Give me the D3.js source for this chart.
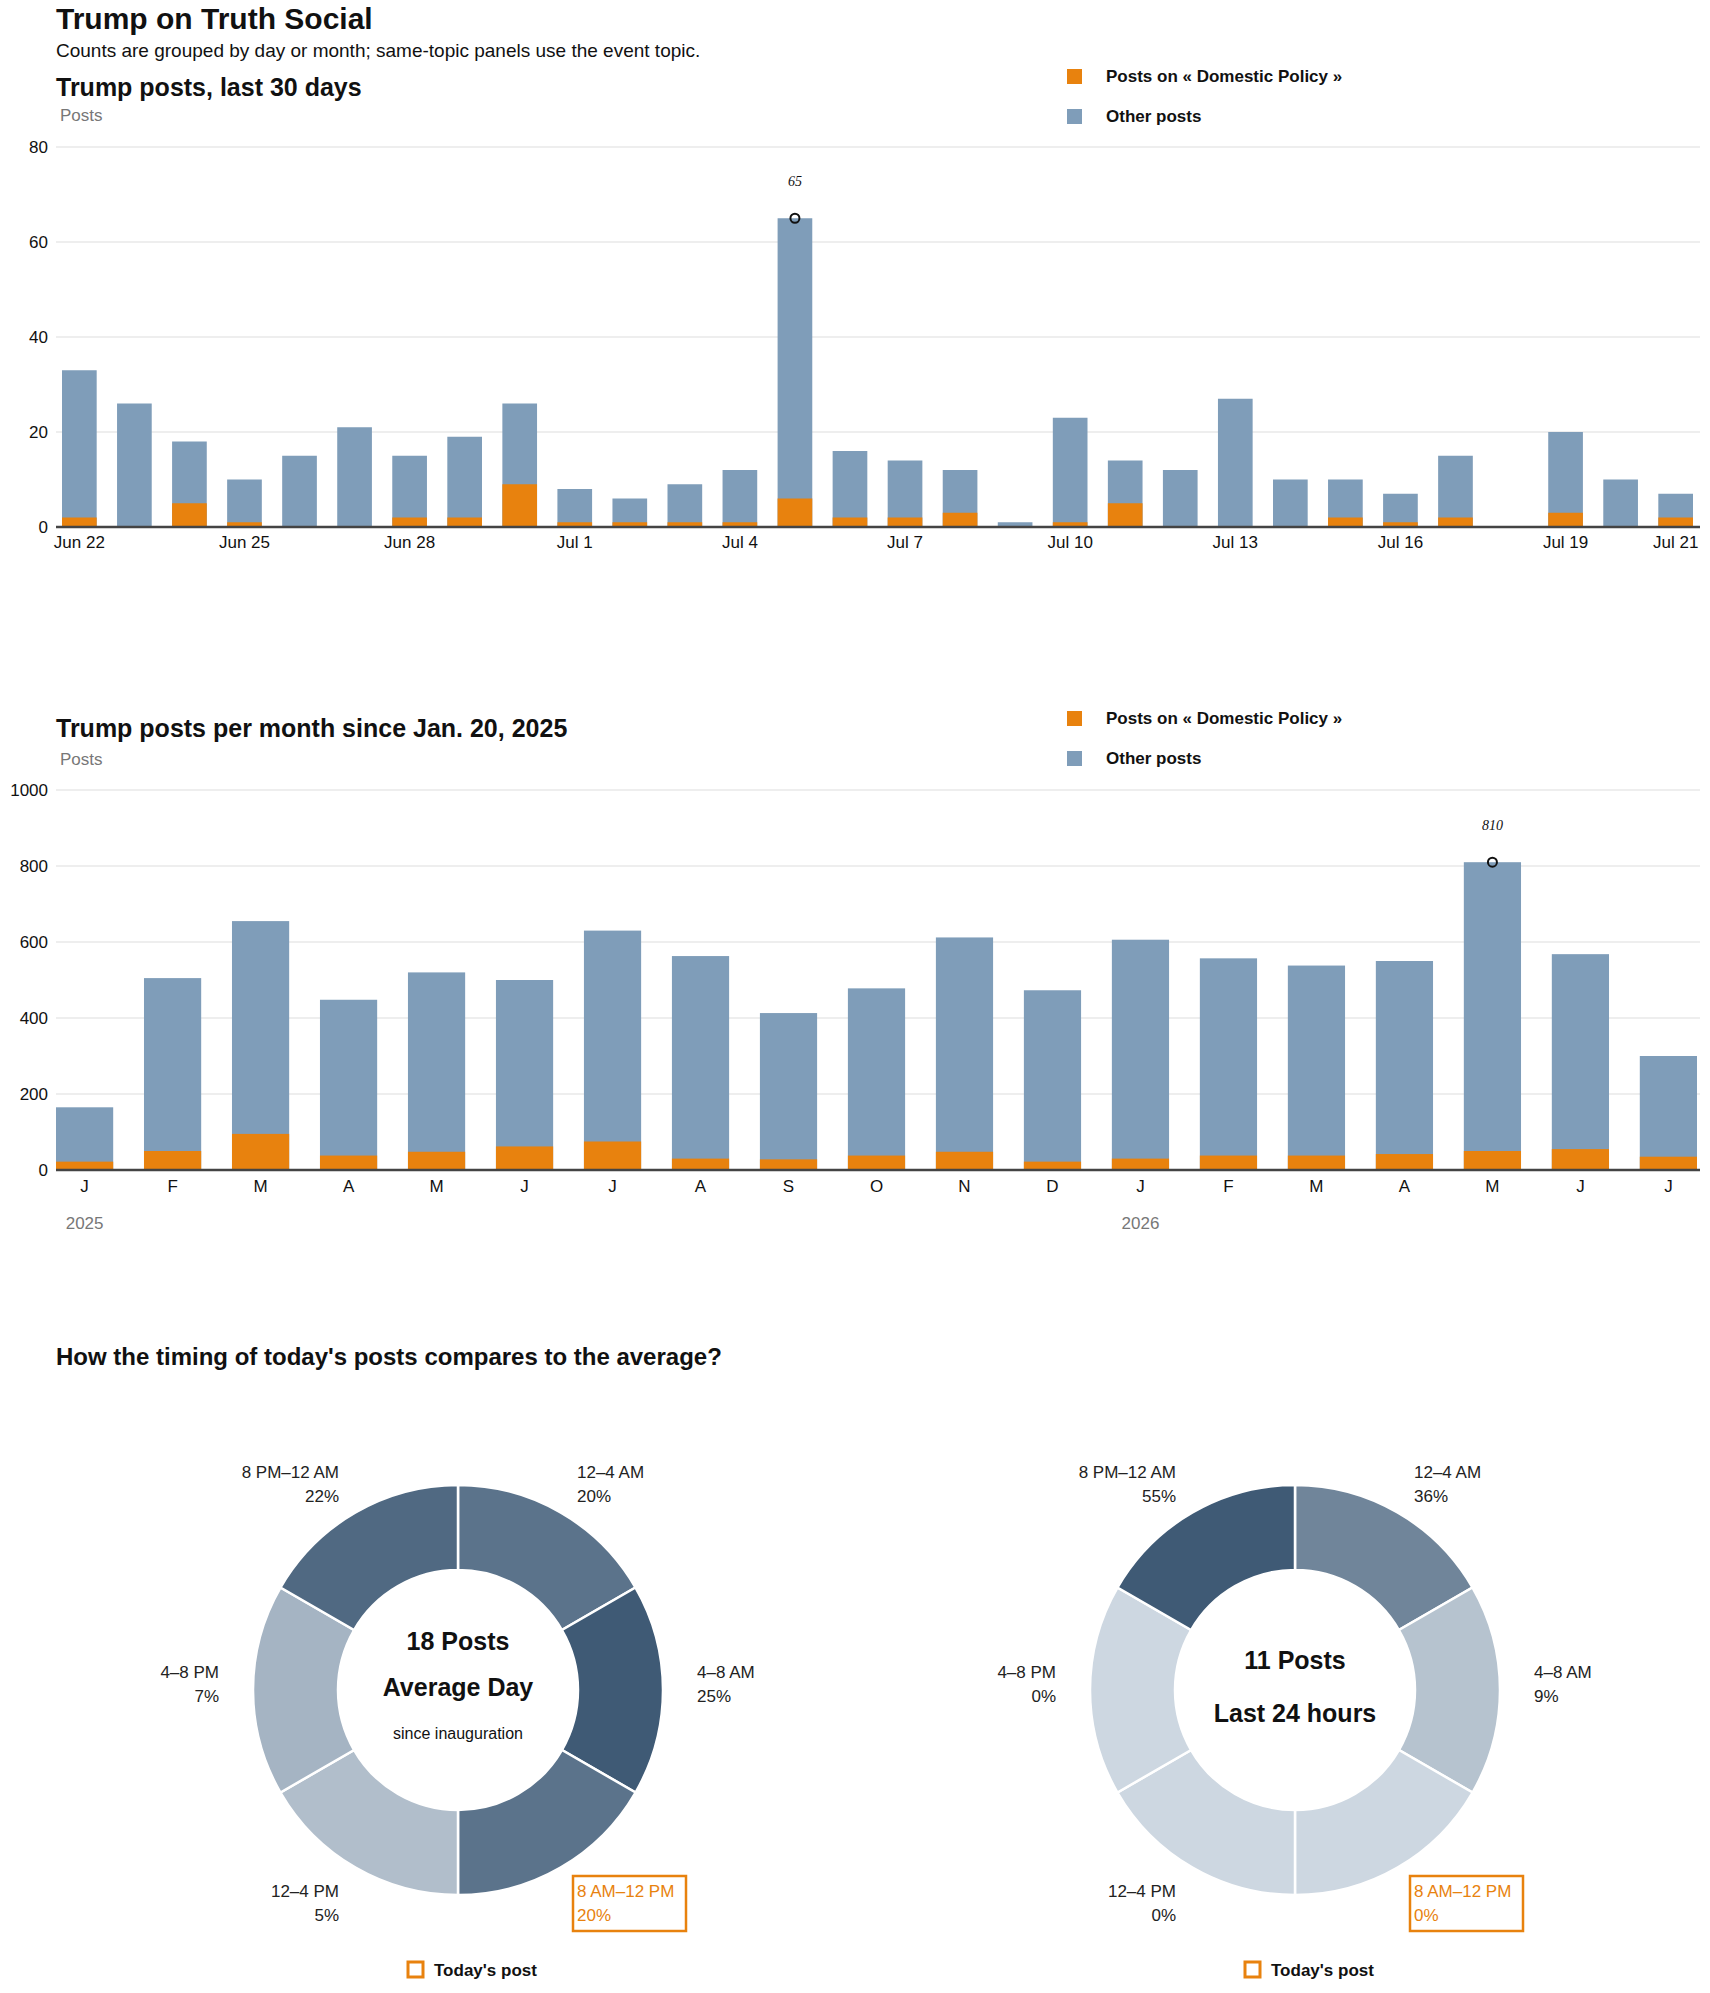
<!DOCTYPE html>
<html><head><meta charset="utf-8">
<script src="https://cdn.jsdelivr.net/npm/d3@7"></script>
<style>
body{margin:0;background:#fff;}
text{font-family:"Liberation Sans Narrow","Liberation Sans",Arial,sans-serif;}
.hv{font-weight:900;}
</style></head><body>
<svg id="c" width="1710" height="1993"></svg>
<script>
const days=["Jun 22","Jun 23","Jun 24","Jun 25","Jun 26","Jun 27","Jun 28","Jun 29","Jun 30","Jul 1","Jul 2","Jul 3","Jul 4","Jul 5","Jul 6","Jul 7","Jul 8","Jul 9","Jul 10","Jul 11","Jul 12","Jul 13","Jul 14","Jul 15","Jul 16","Jul 17","Jul 18","Jul 19","Jul 20","Jul 21"];
const dayTotal=[33,26,18,10,15,21,15,19,26,8,6,9,12,65,16,14,12,1,23,14,12,27,10,10,7,15,0,20,10,7];
const dayTopic=[2,0,5,1,0,0,2,2,9,1,1,1,1,6,2,2,3,0,1,5,0,0,0,2,1,2,0,3,0,2];
const dayTicks=["Jun 22","Jun 25","Jun 28","Jul 1","Jul 4","Jul 7","Jul 10","Jul 13","Jul 16","Jul 19","Jul 21"];
const months=["2025-01","2025-02","2025-03","2025-04","2025-05","2025-06","2025-07","2025-08","2025-09","2025-10","2025-11","2025-12","2026-01","2026-02","2026-03","2026-04","2026-05","2026-06","2026-07"];
const monthLabels=["J","F","M","A","M","J","J","A","S","O","N","D","J","F","M","A","M","J","J"];
const monthTotal=[165,505,655,448,520,500,630,563,413,478,612,473,606,557,538,550,810,568,300];
const monthTopic=[22,50,95,38,48,62,75,30,28,38,48,22,30,38,38,42,50,55,35];
const slots=["12–4 AM","4–8 AM","8 AM–12 PM","12–4 PM","4–8 PM","8 PM–12 AM"];
const avgPct=[20,25,20,5,7,22];
const todayPct=[36,9,0,0,0,55];
const ORANGE="#e8820e", BLUE="#7f9db9";
const svg=d3.select("#c");
const L=56,R=1700;
function txt(x,y,s,o={}){const t=svg.append("text").attr("x",x).attr("y",y).text(s).attr("font-size",o.size||17).attr("fill",o.fill||"#111");
 if(o.cls)t.attr("class",o.cls); if(o.anchor)t.attr("text-anchor",o.anchor); if(o.style)t.attr("font-style",o.style); if(o.family)t.style("font-family",o.family); return t;}
txt(L,29,"Trump on Truth Social",{size:30,cls:"hv"});
txt(L,57,"Counts are grouped by day or month; same-topic panels use the event topic.",{size:19});

function legend(y){
 svg.append("rect").attr("x",1067).attr("y",y-13).attr("width",15).attr("height",15).attr("fill",ORANGE);
 txt(1106,y,"Posts on « Domestic Policy »",{size:17,cls:"hv"});
 svg.append("rect").attr("x",1067).attr("y",y+27).attr("width",15).attr("height",15).attr("fill",BLUE);
 txt(1106,y+40,"Other posts",{size:17,cls:"hv"});
}
function barChart(o){
 const y=d3.scaleLinear().domain([0,o.max]).range([o.y0,o.y1]);
 const x=d3.scaleBand().domain(o.cats).range(o.xr).paddingInner(o.pad).paddingOuter(0);
 const g=svg.append("g");
 y.ticks(4).forEach(t=>{
  g.append("line").attr("x1",L).attr("x2",R).attr("y1",y(t)).attr("y2",y(t)).attr("stroke","#ddd");
  txt(L-8,y(t)+6,t,{size:17,anchor:"end"});
 });
 o.cats.forEach((c,i)=>{
  g.append("rect").attr("x",x(c)).attr("width",x.bandwidth()).attr("y",y(o.tot[i])).attr("height",y(0)-y(o.tot[i])).attr("fill",BLUE);
  g.append("rect").attr("x",x(c)).attr("width",x.bandwidth()).attr("y",y(o.top[i])).attr("height",y(0)-y(o.top[i])).attr("fill",ORANGE);
 });
 g.append("line").attr("x1",L).attr("x2",R).attr("y1",y(0)).attr("y2",y(0)).attr("stroke","#444").attr("stroke-width",2.5);
 const mi=o.tot.indexOf(d3.max(o.tot)), mx=x(o.cats[mi])+x.bandwidth()/2;
 g.append("circle").attr("cx",mx).attr("cy",y(o.tot[mi])).attr("r",4.5).attr("fill","none").attr("stroke","#111").attr("stroke-width",2);
 txt(mx,y(o.tot[mi])-32,o.tot[mi],{size:14,anchor:"middle",style:"italic",family:"'Liberation Serif',serif"});
 return {x,y};
}
txt(L,96,"Trump posts, last 30 days",{size:25,cls:"hv"});
txt(L+4,121,"Posts",{size:17,fill:"#777"});
legend(82);
const c1=barChart({cats:days,tot:dayTotal,top:dayTopic,max:80,y0:527,y1:147,pad:0.37,xr:[62,1693]});
days.forEach(d=>{ if(dayTicks.includes(d)){const cx=c1.x(d)+c1.x.bandwidth()/2; txt(cx,548,d,{size:17,anchor:"middle"});}});

txt(L,737,"Trump posts per month since Jan. 20, 2025",{size:25,cls:"hv"});
txt(L+4,765,"Posts",{size:17,fill:"#777"});
legend(724);
const c2=barChart({cats:months,tot:monthTotal,top:monthTopic,max:1000,y0:1170,y1:790,pad:0.35,xr:[56,1697]});
months.forEach((m,i)=>{const cx=c2.x(m)+c2.x.bandwidth()/2; txt(cx,1192,monthLabels[i],{size:17,anchor:"middle"});
 if(m.endsWith("-01")) txt(cx,1229,m.slice(0,4),{size:17,anchor:"middle",fill:"#777"});});

txt(L,1365,"How the timing of today's posts compares to the average?",{size:24,cls:"hv"});
function donut(cx,cy,pct,lines){
 const col=d3.scaleLinear().domain([0,d3.max(pct)]).range(["#cdd7e1","#3f5a75"]);
 const g=svg.append("g").attr("transform",`translate(${cx},${cy})`);
 const pie=d3.pie().value(1).sort(null)(slots);
 const arc=d3.arc().innerRadius(120).outerRadius(205);
 g.selectAll("path").data(pie).join("path").attr("d",arc).attr("fill",(d,i)=>col(pct[i])).attr("stroke","#fff").attr("stroke-width",2.5);
 pie.forEach((d,i)=>{
  const a=(d.startAngle+d.endAngle)/2;
  const right=Math.sin(a)>0;
  const anchor=right?"start":"end";
  let lx,ly;
  if(i===0||i===5){ly=-212; lx=right?119:-119;}
  if(i===2||i===3){ly=207; lx=right?119:-119;}
  if(i===1||i===4){lx=right?239:-239; ly=-12;}
  const isT=i===2, fill=isT?ORANGE:"#222";
  g.append("text").attr("x",lx).attr("y",ly).attr("text-anchor",anchor).attr("font-size",17).attr("fill",fill).text(slots[i]);
  g.append("text").attr("x",lx).attr("y",ly+24).attr("text-anchor",anchor).attr("font-size",17).attr("fill",fill).text(pct[i]+"%");
  if(isT){g.append("rect").attr("x",lx-4).attr("y",ly-21).attr("width",113).attr("height",55).attr("fill","none").attr("stroke",ORANGE).attr("stroke-width",2.5);}
 });
 lines.forEach(l=>g.append("text").attr("y",l[0]).attr("text-anchor","middle").attr("font-size",l[1]).attr("class",l[2]||null).attr("fill","#111").text(l[3]));
 svg.append("rect").attr("x",cx-50).attr("y",1962).attr("width",15).attr("height",15).attr("fill","none").attr("stroke",ORANGE).attr("stroke-width",3);
 txt(cx-24,1976,"Today's post",{size:17,cls:"hv"});
}
donut(458,1690,avgPct,[[-40,25,"hv","18 Posts"],[6,25,"hv","Average Day"],[49,16,null,"since inauguration"]]);
donut(1295,1690,todayPct,[[-21,25,"hv","11 Posts"],[32,25,"hv","Last 24 hours"]]);
</script></body></html>
